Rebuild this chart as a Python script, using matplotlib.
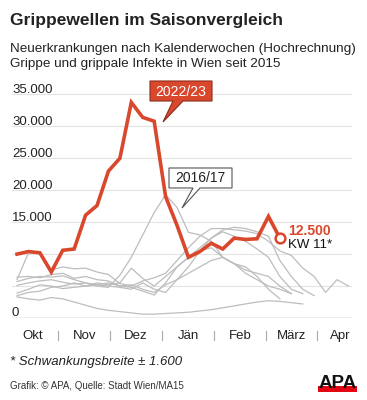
import numpy as np
import matplotlib
matplotlib.use("Agg")
import matplotlib.pyplot as plt
from matplotlib.patches import Polygon, Rectangle
from matplotlib.transforms import blended_transform_factory

plt.rcParams['font.family'] = ['Liberation Sans', 'DejaVu Sans']

# ---------------- data ----------------
# week index 0 = KW 40 ... 23 = KW 11, up to 29 = KW 17
season_2022_23 = [10000, 10400, 10200, 7200, 10600, 10800, 16100, 17600, 23000, 25000,
                  33750, 31400, 30800, 19000, 14500, 9500, 10400, 11700, 10800, 12500,
                  12300, 12400, 15900, 12500]

grey_seasons = {
    "2015/16": [3500, 4000, 4200, 4800, 5000, 5500, 5000, 5200, 5500, 5000, 4800, 4200, 3600,
                5500, 8000, 9500, 11000, 12500, 13800, 14200, 14000, 13500, 12800, 9000, 6500,
                4500, 3500],
    "2016/17": [5700, 6200, 6500, 6400, 6600, 6000, 5500, 5000, 4800, 6700, 9500, 13000, 16500,
                19300, 17300, 13400, 13000, 12000, 9500, 8500, 7500, 7000, 6500, 5000, 3800],
    "2017/18": [6000, 10200, 10200, 7500, 8000, 7700, 7800, 7200, 6800, 5400, 5000, 5800, 6300,
                7000, 9000, 11000, 12800, 14000, 14000, 13800, 13600, 13200, 12000, 10500, 9800,
                7800, 6500, 4000, 6000, 5000],
    "2018/19": [5100, 5500, 5800, 6000, 5600, 5300, 5500, 5200, 5000, 4800, 4500, 5500, 4500,
                4000, 6000, 8000, 10500, 12500, 13500, 12800, 12000, 10800, 9500, 6500, 4500, 3800],
    "2019/20": [3900, 4500, 5200, 5000, 4600, 4800, 5000, 5500, 5200, 5500, 7800, 6200, 5000,
                6500, 8000, 9500, 10500, 11000, 9500, 8500, 8000, 6500, 4500, 3000],
    "2020/21": [3300, 3000, 2800, 3200, 3000, 2500, 2000, 1500, 1200, 1000, 800, 600, 600, 700,
                800, 900, 1100, 1300, 1600, 1900, 2200, 2500, 2700, 2600, 2400, 2200],
    "2021/22": [6400, 6500, 6300, 6800, 7000, 6200, 6500, 6000, 5800, 5000, 5200, 4500, 4000,
                5200, 6000, 7000, 8000, 9000, 9500, 8500, 7000, 6000, 5000, 4500, 3800],
}

y_ticks = [0, 5000, 10000, 15000, 20000, 25000, 30000, 35000]
y_tick_labels = ["0", "", "", "15.000", "20.000", "25.000", "30.000", "35.000"]

months = ["Okt", "Nov", "Dez", "Jän", "Feb", "März", "Apr"]
month_centers = [1.4, 5.9, 10.4, 15.0, 19.5, 24.0, 28.3]
month_separators = [3.6, 8.15, 12.7, 17.25, 21.8, 26.25]

last_value_label = "12.500"
last_week_label = "KW 11*"

RED = "#d9482c"
GREY = "#bdbdbd"

# ---------------- figure ----------------
W, H = 367, 400
fig = plt.figure(figsize=(W / 100, H / 100), dpi=100)
fig.patch.set_facecolor("white")


def P(x, y):
    return (x / W, 1 - y / H)


ax_left, ax_right, ax_bottom, ax_top = 12, 352, 318, 88
ax = fig.add_axes([ax_left / W, 1 - ax_bottom / H, (ax_right - ax_left) / W, (ax_bottom - ax_top) / H])
ax.set_xlim(-0.44, 29.31)
ax.set_ylim(0, 36000)
ax.axis("off")

ylab = blended_transform_factory(ax.transAxes, ax.transData)
for v, lab in zip(y_ticks, y_tick_labels):
    if v > 0:
        ax.axhline(v, color="#e3e3e3", lw=0.8, zorder=0)
    if lab:
        ax.text(0.0, v + 250, lab, transform=ylab, ha="left", va="baseline",
                fontsize=9.5, color="#222222", zorder=1)
ax.axhline(0, color="#777777", lw=0.9, zorder=1)

for name, vals in grey_seasons.items():
    ax.plot(np.arange(len(vals)), vals, color=GREY, lw=0.9, zorder=2, solid_joinstyle="miter")

x_red = np.arange(len(season_2022_23))
ax.plot(x_red, season_2022_23, color=RED, lw=2.6, zorder=4, solid_joinstyle="miter")
ax.plot(x_red[-1], season_2022_23[-1], marker="o", ms=7, mfc="white", mec=RED, mew=1.8, zorder=5)

xlab = blended_transform_factory(ax.transData, ax.transAxes)
for c, m in zip(month_centers, months):
    ax.text(c, -0.078, m, transform=xlab, ha="center", va="center", fontsize=9.5,
            color="#222222", clip_on=False)
for s in month_separators:
    ax.plot([s, s], [-0.056, -0.096], transform=xlab, color="#aaaaaa", lw=0.8, clip_on=False)

# end labels
ax.annotate(last_value_label, xy=(x_red[-1], season_2022_23[-1]), xytext=(6, 5),
            textcoords="offset points", ha="left", va="center", fontsize=10,
            fontweight="bold", color=RED)
ax.annotate(last_week_label, xy=(x_red[-1], season_2022_23[-1]), xytext=(6, -5),
            textcoords="offset points", ha="left", va="center", fontsize=9.5, color="#111111")

# callouts
red_box = [P(150, 81), P(212, 81), P(212, 101), P(183, 101), P(163, 122), P(173, 101), P(150, 101)]
fig.patches.append(Polygon(red_box, closed=True, transform=fig.transFigure, facecolor=RED,
                           edgecolor="#8a2c1c", lw=0.8, zorder=6))
fig.text(*P(181, 91.5), "2022/23", ha="center", va="center", fontsize=10, color="white", zorder=7)

grey_box = [P(169, 168), P(232, 168), P(232, 188), P(200, 188), P(182, 208), P(193, 188), P(169, 188)]
fig.patches.append(Polygon(grey_box, closed=True, transform=fig.transFigure, facecolor="white",
                           edgecolor="#555555", lw=0.8, zorder=6))
fig.text(*P(200.5, 178.5), "2016/17", ha="center", va="center", fontsize=10, color="#222222", zorder=7)

# titles
fig.text(*P(10, 25), "Grippewellen im Saisonvergleich", ha="left", va="baseline",
         fontsize=12.5, fontweight="bold", color="#222222")
fig.text(*P(10, 52), "Neuerkrankungen nach Kalenderwochen (Hochrechnung)", ha="left",
         va="baseline", fontsize=9.7, color="#222222")
fig.text(*P(10, 67), "Grippe und grippale Infekte in Wien seit 2015", ha="left",
         va="baseline", fontsize=9.7, color="#222222")

# footer
fig.text(*P(10, 365), "* Schwankungsbreite ± 1.600", ha="left", va="baseline",
         fontsize=9.5, style="italic", color="#222222")
fig.text(*P(10, 389), "Grafik: © APA, Quelle: Stadt Wien/MA15", ha="left", va="baseline",
         fontsize=7, color="#333333")

# APA logo
fig.patches.append(Rectangle(P(318, 392), 39 / W, 6 / H, transform=fig.transFigure,
                             facecolor="#e30613", edgecolor="none", zorder=6))
fig.text(*P(337.5, 388), "APA", ha="center", va="baseline", fontsize=13.5,
         fontweight="heavy", color="#111111", zorder=7)

fig.savefig("out.png", dpi=100)
